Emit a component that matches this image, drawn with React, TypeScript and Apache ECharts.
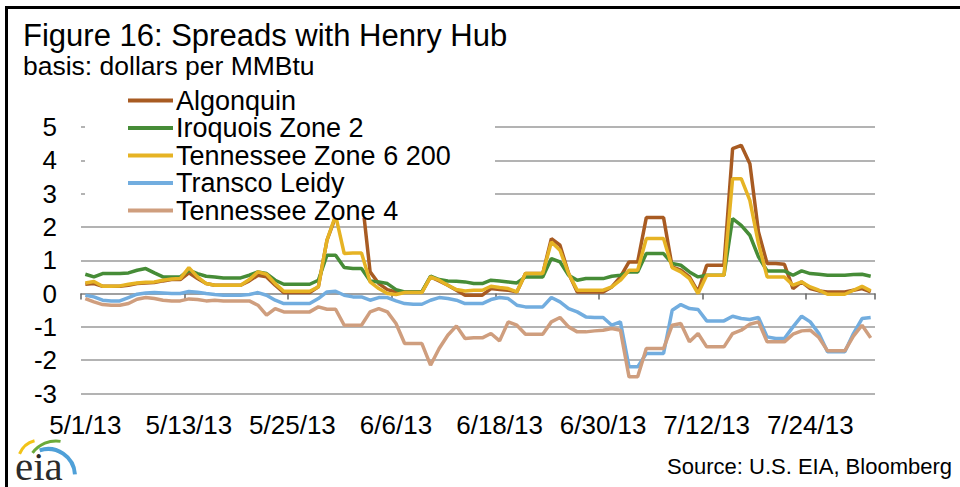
import React, { useEffect, useRef } from "react";
import * as echarts from "echarts";

// Daily categories 5/1/13 .. 7/31/13
const monthDays: [number, number][] = [[5, 31], [6, 30], [7, 31]];
const categories: string[] = [];
monthDays.forEach(([m, n]) => {
  for (let d = 1; d <= n; d++) categories.push(`${m}/${d}/13`);
});

const seriesNames = [
  "Algonquin",
  "Iroquois Zone 2",
  "Tennessee Zone 6 200",
  "Transco Leidy",
  "Tennessee Zone 4",
];

const algonquin = [
  0.28, 0.3, 0.22, 0.22, 0.22, 0.25, 0.3, 0.32, 0.33, 0.38, 0.42, 0.42, 0.62, 0.45, 0.3,
  0.25, 0.25, 0.25, 0.25, 0.38, 0.55, 0.5, 0.25, 0.03, 0.03, 0.03, 0.03, 0.2, 1.6, 2.3,
  3.0, 3.0, 3.0, 0.65, 0.3, 0.12, 0.05, 0.05, 0.05, 0.05, 0.5, 0.38, 0.25, 0.1, -0.05,
  -0.05, -0.05, 0.15, 0.12, 0.1, 0.05, 0.6, 0.6, 0.6, 1.65, 1.45, 0.6, 0.05, 0.05, 0.05,
  0.05, 0.2, 0.5, 0.95, 0.95, 2.28, 2.28, 2.28, 0.8, 0.7, 0.5, 0.05, 0.85, 0.85, 0.85,
  4.35, 4.45, 3.9, 1.85, 0.9, 0.9, 0.88, 0.15, 0.35, 0.15, 0.08, 0.05, 0.05, 0.05, 0.1, 0.15, 0.05,
];

const iroquois = [
  0.58, 0.5, 0.6, 0.6, 0.6, 0.62, 0.7, 0.75, 0.62, 0.5, 0.5, 0.5, 0.7, 0.6, 0.52,
  0.5, 0.47, 0.47, 0.47, 0.55, 0.65, 0.6, 0.4, 0.28, 0.28, 0.28, 0.28, 0.4, 1.15, 1.15,
  0.78, 0.75, 0.75, 0.38, 0.35, 0.3, 0.12, 0.05, 0.05, 0.05, 0.52, 0.42, 0.38, 0.37, 0.35,
  0.3, 0.3, 0.4, 0.38, 0.35, 0.32, 0.5, 0.5, 0.5, 1.05, 0.95, 0.55, 0.4, 0.45, 0.45,
  0.45, 0.52, 0.55, 0.65, 0.65, 1.2, 1.2, 1.2, 0.9, 0.85, 0.65, 0.5, 0.55, 0.55, 0.55,
  2.25, 2.05, 1.75, 1.1, 0.68, 0.68, 0.68, 0.55, 0.68, 0.6, 0.58, 0.55, 0.55, 0.55, 0.57, 0.58, 0.52,
];

const tennessee6 = [
  0.32, 0.36, 0.22, 0.22, 0.23, 0.28, 0.32, 0.34, 0.35, 0.4, 0.44, 0.45, 0.78, 0.5, 0.3,
  0.25, 0.25, 0.25, 0.25, 0.42, 0.65, 0.58, 0.3, 0.07, 0.07, 0.07, 0.07, 0.2, 1.6, 2.35,
  1.2, 1.22, 1.22, 0.35, 0.15, 0.0, -0.03, 0.03, 0.03, 0.03, 0.5, 0.4, 0.25, 0.12, 0.08,
  0.1, 0.1, 0.22, 0.18, 0.15, 0.05, 0.6, 0.6, 0.6, 1.55, 1.3, 0.6, 0.1, 0.1, 0.1,
  0.1, 0.2, 0.4, 0.7, 0.7, 1.65, 1.65, 1.65, 0.78, 0.65, 0.45, 0.0, 0.55, 0.55, 0.55,
  3.45, 3.45, 2.8, 1.5, 0.5, 0.5, 0.5, 0.25, 0.35, 0.2, 0.1, -0.02, -0.02, -0.02, 0.1, 0.22, 0.08,
];

const transcoLeidy = [
  -0.05, -0.1, -0.2, -0.22, -0.22, -0.12, -0.02, 0.02, 0.03, 0.02, 0.0, 0.0, 0.06, 0.04, 0.0,
  -0.03, -0.05, -0.05, -0.05, -0.03, 0.03, -0.05, -0.2, -0.3, -0.3, -0.3, -0.3, -0.15, 0.05, 0.07,
  -0.05, -0.1, -0.1, -0.2, -0.12, -0.12, -0.22, -0.3, -0.32, -0.32, -0.2, -0.12, -0.15, -0.2, -0.3,
  -0.3, -0.3, -0.18, -0.12, -0.15, -0.35, -0.4, -0.4, -0.4, -0.12, -0.25, -0.45, -0.55, -0.7, -0.72,
  -0.72, -0.95, -0.85, -2.2, -2.2, -1.8, -1.8, -1.8, -0.5, -0.33, -0.45, -0.48, -0.82, -0.82, -0.82,
  -0.68, -0.75, -0.78, -0.72, -1.3, -1.35, -1.35, -1.0, -0.68, -0.85, -1.2, -1.75, -1.75, -1.75, -1.2, -0.75, -0.72,
];

const tennessee4 = [
  -0.15, -0.25, -0.33, -0.35, -0.35, -0.3, -0.17, -0.12, -0.15, -0.2, -0.22, -0.22, -0.16, -0.18, -0.22,
  -0.2, -0.22, -0.22, -0.22, -0.22, -0.35, -0.65, -0.45, -0.55, -0.55, -0.55, -0.55, -0.4, -0.47, -0.47,
  -0.95, -0.95, -0.95, -0.55, -0.45, -0.55, -0.9, -1.5, -1.5, -1.5, -2.15, -1.65, -1.25, -0.97, -1.35,
  -1.33, -1.33, -1.2, -1.42, -0.85, -0.95, -1.22, -1.22, -1.22, -0.85, -0.72, -1.0, -1.15, -1.15, -1.12,
  -1.1, -1.05, -1.1, -2.5, -2.5, -1.65, -1.65, -1.65, -0.95, -0.9, -1.45, -1.2, -1.6, -1.6, -1.6,
  -1.2, -1.1, -0.92, -0.85, -1.45, -1.45, -1.45, -1.22, -1.12, -1.1, -1.32, -1.72, -1.72, -1.72, -1.28, -0.95, -1.33,
];

const seriesValues = [algonquin, iroquois, tennessee6, transcoLeidy, tennessee4];
const seriesColors = ["#A85B22", "#468C37", "#E6B324", "#72ADDF", "#CF9E7E"];

const FONT = "'Liberation Sans', Arial, sans-serif";

export default function App() {
  const ref = useRef<HTMLDivElement>(null);
  useEffect(() => {
    document.body.style.margin = "0";
    if (!ref.current) return;
    const chart = echarts.init(ref.current, null, { renderer: "svg" });
    chart.setOption({
      animation: false,
      backgroundColor: "#ffffff",
      grid: { left: 81, right: 85, top: 127, bottom: 93.5, containLabel: false, outerBoundsMode: "none" },
      legend: {
        orient: "vertical",
        left: 128,
        top: 87,
        padding: 0,
        itemWidth: 45,
        itemHeight: 4,
        itemGap: 0.5,
        icon: "rect",
        z: 6,
        data: seriesNames,
        textStyle: { fontSize: 27, lineHeight: 26, color: "#000", fontFamily: FONT, padding: [0, 0, 0, -2] },
      },
      xAxis: {
        type: "category",
        data: categories,
        boundaryGap: true,
        axisLine: { onZero: true, lineStyle: { color: "#9a9a9a", width: 1.5 } },
        axisTick: { show: true, interval: 11, length: 6, lineStyle: { color: "#666", width: 1.5 } },
        axisLabel: { interval: 11, margin: 18, fontSize: 26, color: "#000", fontFamily: FONT },
        splitLine: { show: false },
      },
      yAxis: {
        type: "value",
        min: -3,
        max: 5,
        interval: 1,
        axisLine: { show: false },
        axisTick: { show: false },
        axisLabel: { fontSize: 26, color: "#000", margin: 24, fontFamily: FONT },
        splitLine: { lineStyle: { color: "#9a9a9a", width: 1.5 } },
      },
      series: seriesNames.map((name, i) => ({
        name,
        type: "line",
        data: seriesValues[i],
        symbol: "none",
        color: seriesColors[i],
        lineStyle: { width: 3.5, color: seriesColors[i] },
        z: 2,
      })),
      graphic: [
        { type: "rect", z: 3, shape: { x: 85, y: 84, width: 410, height: 134 }, style: { fill: "#ffffff" } },
        { type: "line", z: 10, shape: { x1: 5, y1: 7.5, x2: 960, y2: 7.5 }, style: { stroke: "#000", lineWidth: 3 } },
        { type: "line", z: 10, shape: { x1: 6.5, y1: 6, x2: 6.5, y2: 487 }, style: { stroke: "#000", lineWidth: 3 } },
        {
          type: "text", z: 10, left: 23, top: 20,
          style: { text: "Figure 16: Spreads with Henry Hub", fontSize: 31, fontFamily: FONT, fill: "#000" },
        },
        {
          type: "text", z: 10, left: 23, top: 52,
          style: { text: "basis: dollars per MMBtu", fontSize: 26.5, fontFamily: FONT, fill: "#000" },
        },
        {
          type: "text", z: 10, right: 8, top: 455,
          style: { text: "Source: U.S. EIA, Bloomberg", fontSize: 22, fontFamily: FONT, fill: "#000" },
        },
        {
          type: "text", z: 10, left: 15, top: 445,
          style: { text: "eia", fontSize: 41, fontFamily: "'Liberation Serif', 'DejaVu Serif', serif", fill: "#2b2b2b" },
        },
        {
          type: "arc", z: 10,
          shape: { cx: 48, cy: 476, r: 27, startAngle: -Math.PI * 0.6, endAngle: -Math.PI * 0.02 },
          style: { stroke: "#4FA0D8", lineWidth: 4, fill: "none" },
        },
        {
          type: "arc", z: 10,
          shape: { cx: 56, cy: 470, r: 29, startAngle: -Math.PI * 0.8, endAngle: -Math.PI * 0.45 },
          style: { stroke: "#6BAA3A", lineWidth: 3, fill: "none" },
        },
        {
          type: "arc", z: 10,
          shape: { cx: 40, cy: 462, r: 22, startAngle: -Math.PI * 0.88, endAngle: -Math.PI * 0.58 },
          style: { stroke: "#F2C318", lineWidth: 3, fill: "none" },
        },
      ],
    });
    return () => chart.dispose();
  }, []);
  return (
    <div
      ref={ref}
      style={{ position: "fixed", left: 0, top: 0, width: 960, height: 487 }}
    />
  );
}
